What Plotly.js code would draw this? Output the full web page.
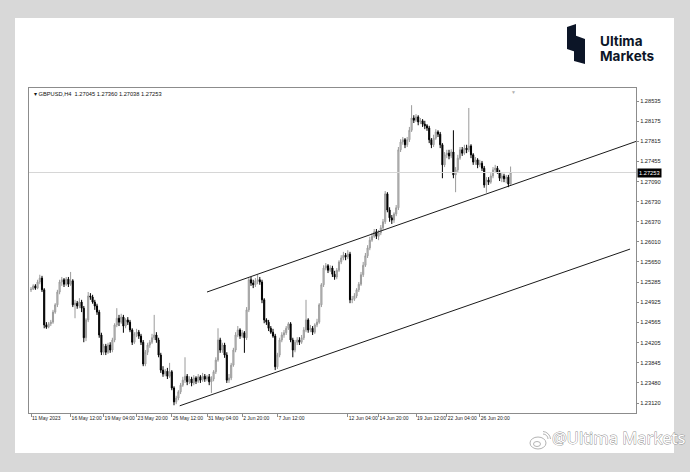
<!DOCTYPE html>
<html>
<head>
<meta charset="utf-8">
<script src="https://cdn.plot.ly/plotly-3.0.1.min.js"></script>
<style>
html,body{margin:0;padding:0;background:#d8d8d8;width:690px;height:472px;overflow:hidden;}
#card{position:absolute;left:15px;top:18px;width:659px;height:435px;background:#ffffff;}
#chart{position:absolute;left:0;top:0;width:690px;height:472px;}
#logo{position:absolute;left:566px;top:24px;width:22px;height:40px;}
.logoLine{position:absolute;left:600px;font-family:Inter,Roboto,"Noto Sans",sans-serif;font-weight:700;font-size:13.5px;line-height:15px;color:#0c1527;white-space:nowrap;}
#wm{position:absolute;left:552px;top:428px;font-family:"Noto Sans",Roboto,sans-serif;font-weight:400;font-size:16.5px;line-height:20px;color:#ffffff;-webkit-text-stroke:0.9px #8f8f8f;paint-order:stroke fill;white-space:nowrap;}
#wmIcon{position:absolute;left:529px;top:431px;}
</style>
</head>
<body>
<div id="card"></div>
<svg id="logo" width="22" height="40" viewBox="0 0 22 40">
  <polygon points="1,3 10,0 10,28 1,25" fill="#0c1527"/>
  <polygon points="8,11 19,15 19,40 8,37" fill="#0c1527"/>
</svg>
<div class="logoLine" style="top:34px">Ultima</div>
<div class="logoLine" style="top:49px">Markets</div>
<svg id="wmIcon" width="22" height="20" viewBox="0 0 22 20">
  <ellipse cx="9" cy="12" rx="8" ry="6" fill="none" stroke="#aaa" stroke-width="0.9"/>
  <ellipse cx="8" cy="13" rx="3.5" ry="2.5" fill="none" stroke="#aaa" stroke-width="0.9"/>
  <path d="M14,3 A5,5 0 0 1 19,8" fill="none" stroke="#aaa" stroke-width="0.9"/>
  <path d="M14,0.5 A8,8 0 0 1 21.5,8" fill="none" stroke="#aaa" stroke-width="0.9"/>
</svg>
<div id="wm">@Ultima Markets</div>
<div id="chart"></div>
<script>
// ---- data (GBPUSD, H4) ----
const symbolTitle = "GBPUSD,H4";
const lastBar = {open: 1.27045, high: 1.27360, low: 1.27038, close: 1.27253};

const openP = [
1.2515,1.2516,1.2522,1.2518,1.2529,1.2536,1.2515,1.2452,1.2448,1.2454,
1.2457,1.2475,1.2488,1.2511,1.2529,1.2533,1.2525,1.2534,1.2525,1.2531,
1.2488,1.2491,1.2486,1.2493,1.2482,1.2429,1.2461,1.2504,1.2502,1.2493,
1.2486,1.2475,1.2434,1.2403,1.2414,1.2403,1.2416,1.2407,1.2425,1.2452,
1.2464,1.2457,1.2466,1.2450,1.2461,1.2457,1.2443,1.2421,1.2436,1.2439,
1.2432,1.2421,1.2382,1.2403,1.2416,1.2421,1.2429,1.2434,1.2425,1.2398,
1.2371,1.2364,1.2369,1.2360,1.2368,1.2339,1.2314,1.2321,1.2332,1.2344,
1.2353,1.2360,1.2350,1.2355,1.2348,1.2357,1.2351,1.2359,1.2353,1.2360,
1.2355,1.2359,1.2350,1.2355,1.2368,1.2389,1.2425,1.2407,1.2416,1.2398,
1.2353,1.2357,1.2380,1.2407,1.2434,1.2443,1.2432,1.2438,1.2429,1.2479,
1.2533,1.2527,1.2524,1.2531,1.2533,1.2529,1.2497,1.2461,1.2457,1.2446,
1.2439,1.2432,1.2377,1.2398,1.2425,1.2434,1.2438,1.2446,1.2454,1.2425,
1.2407,1.2421,1.2425,1.2421,1.2429,1.2443,1.2461,1.2443,1.2446,1.2439,
1.2452,1.2457,1.2488,1.2524,1.2554,1.2558,1.2550,1.2554,1.2543,1.2538,
1.2550,1.2565,1.2572,1.2577,1.2574,1.2579,1.2497,1.2498,1.2504,1.2515,
1.2525,1.2542,1.2559,1.2576,1.2590,1.2604,1.2611,1.2619,1.2611,1.2617,
1.2626,1.2637,1.2687,1.2658,1.2644,1.2640,1.2651,1.2662,1.2766,1.2780,
1.2784,1.2775,1.2784,1.2801,1.2823,1.2819,1.2825,1.2816,1.2818,1.2812,
1.2809,1.2805,1.2784,1.2775,1.2787,1.2798,1.2794,1.2775,1.2739,1.2757,
1.2760,1.2755,1.2762,1.2721,1.2730,1.2751,1.2766,1.2760,1.2769,1.2766,
1.2773,1.2757,1.2744,1.2748,1.2739,1.2742,1.2733,1.2703,1.2712,1.2708,
1.2719,1.2730,1.2733,1.2726,1.2715,1.2719,1.2714,1.2717,1.27045];

const highP = [
1.2520,1.2525,1.2525,1.2533,1.2542,1.2540,1.2518,1.2457,1.2457,1.2461,
1.2479,1.2491,1.2515,1.2533,1.2538,1.2536,1.2538,1.2538,1.2547,1.2534,
1.2497,1.2495,1.2500,1.2497,1.2486,1.2464,1.2511,1.2509,1.2506,1.2497,
1.2490,1.2479,1.2438,1.2418,1.2418,1.2420,1.2421,1.2429,1.2455,1.2482,
1.2470,1.2472,1.2470,1.2464,1.2466,1.2461,1.2446,1.2439,1.2445,1.2443,
1.2436,1.2425,1.2407,1.2420,1.2425,1.2436,1.2470,1.2439,1.2429,1.2402,
1.2378,1.2373,1.2375,1.2384,1.2371,1.2342,1.2325,1.2335,1.2348,1.2359,
1.2394,1.2364,1.2360,1.2359,1.2362,1.2360,1.2364,1.2362,1.2366,1.2364,
1.2362,1.2364,1.2360,1.2371,1.2394,1.2446,1.2429,1.2420,1.2420,1.2403,
1.2364,1.2384,1.2411,1.2439,1.2450,1.2446,1.2443,1.2441,1.2484,1.2536,
1.2538,1.2533,1.2536,1.2542,1.2538,1.2533,1.2500,1.2464,1.2461,1.2450,
1.2445,1.2436,1.2402,1.2429,1.2439,1.2443,1.2450,1.2457,1.2457,1.2429,
1.2425,1.2430,1.2430,1.2434,1.2448,1.2497,1.2464,1.2452,1.2450,1.2455,
1.2463,1.2491,1.2527,1.2559,1.2563,1.2561,1.2559,1.2558,1.2549,1.2554,
1.2568,1.2577,1.2583,1.2581,1.2586,1.2583,1.2504,1.2509,1.2518,1.2529,
1.2547,1.2565,1.2581,1.2595,1.2610,1.2617,1.2624,1.2624,1.2622,1.2631,
1.2642,1.2692,1.2690,1.2663,1.2649,1.2654,1.2667,1.2771,1.2785,1.2789,
1.2787,1.2789,1.2807,1.2846,1.2828,1.2830,1.2828,1.2823,1.2821,1.2818,
1.2812,1.2809,1.2787,1.2793,1.2803,1.2801,1.2798,1.2778,1.2762,1.2766,
1.2766,1.2767,1.2801,1.2735,1.2757,1.2771,1.2771,1.2775,1.2775,1.2841,
1.2776,1.2760,1.2753,1.2751,1.2748,1.2746,1.2737,1.2717,1.2717,1.2724,
1.2735,1.2739,1.2737,1.2730,1.2724,1.2723,1.2721,1.2721,1.27360];

const lowP = [
1.2511,1.2515,1.2515,1.2516,1.2525,1.2511,1.2446,1.2445,1.2446,1.2450,
1.2454,1.2472,1.2484,1.2507,1.2522,1.2520,1.2522,1.2520,1.2522,1.2484,
1.2464,1.2481,1.2482,1.2475,1.2421,1.2423,1.2457,1.2497,1.2490,1.2479,
1.2470,1.2429,1.2398,1.2398,1.2398,1.2400,1.2402,1.2403,1.2421,1.2448,
1.2450,1.2454,1.2438,1.2446,1.2452,1.2439,1.2416,1.2418,1.2430,1.2427,
1.2416,1.2378,1.2378,1.2398,1.2411,1.2418,1.2425,1.2420,1.2394,1.2366,
1.2359,1.2360,1.2355,1.2357,1.2335,1.2308,1.2310,1.2317,1.2328,1.2341,
1.2348,1.2344,1.2346,1.2342,1.2344,1.2346,1.2348,1.2348,1.2350,1.2350,
1.2351,1.2344,1.2330,1.2351,1.2364,1.2386,1.2402,1.2402,1.2393,1.2348,
1.2348,1.2353,1.2377,1.2403,1.2430,1.2427,1.2429,1.2402,1.2425,1.2475,
1.2522,1.2518,1.2520,1.2525,1.2524,1.2491,1.2455,1.2452,1.2441,1.2436,
1.2429,1.2371,1.2373,1.2394,1.2421,1.2429,1.2434,1.2443,1.2421,1.2394,
1.2403,1.2416,1.2416,1.2418,1.2425,1.2439,1.2438,1.2439,1.2434,1.2436,
1.2448,1.2454,1.2484,1.2520,1.2550,1.2545,1.2547,1.2538,1.2533,1.2534,
1.2547,1.2561,1.2568,1.2568,1.2570,1.2491,1.2491,1.2495,1.2500,1.2511,
1.2522,1.2538,1.2556,1.2572,1.2586,1.2601,1.2608,1.2606,1.2604,1.2613,
1.2622,1.2633,1.2654,1.2637,1.2633,1.2635,1.2647,1.2658,1.2762,1.2775,
1.2769,1.2771,1.2780,1.2798,1.2814,1.2816,1.2810,1.2812,1.2807,1.2803,
1.2800,1.2778,1.2769,1.2771,1.2784,1.2789,1.2769,1.2715,1.2735,1.2751,
1.2749,1.2751,1.2715,1.2690,1.2726,1.2748,1.2755,1.2757,1.2760,1.2762,
1.2751,1.2739,1.2739,1.2733,1.2735,1.2728,1.2698,1.2689,1.2703,1.2705,
1.2715,1.2726,1.2723,1.2710,1.2708,1.2708,1.2706,1.2699,1.27038];

const closeP = [
1.2516,1.2522,1.2518,1.2529,1.2536,1.2515,1.2452,1.2448,1.2454,1.2457,
1.2475,1.2488,1.2511,1.2529,1.2533,1.2525,1.2534,1.2525,1.2531,1.2488,
1.2491,1.2486,1.2493,1.2482,1.2429,1.2461,1.2504,1.2502,1.2493,1.2486,
1.2475,1.2434,1.2403,1.2414,1.2403,1.2416,1.2407,1.2425,1.2452,1.2464,
1.2457,1.2466,1.2450,1.2461,1.2457,1.2443,1.2421,1.2436,1.2439,1.2432,
1.2421,1.2382,1.2403,1.2416,1.2421,1.2429,1.2434,1.2425,1.2398,1.2371,
1.2364,1.2369,1.2360,1.2368,1.2339,1.2314,1.2321,1.2332,1.2344,1.2353,
1.2360,1.2350,1.2355,1.2348,1.2357,1.2351,1.2359,1.2353,1.2360,1.2355,
1.2359,1.2350,1.2355,1.2368,1.2389,1.2425,1.2407,1.2416,1.2398,1.2353,
1.2357,1.2380,1.2407,1.2434,1.2443,1.2432,1.2438,1.2429,1.2479,1.2533,
1.2527,1.2524,1.2531,1.2533,1.2529,1.2497,1.2461,1.2457,1.2446,1.2439,
1.2432,1.2377,1.2398,1.2425,1.2434,1.2438,1.2446,1.2454,1.2425,1.2407,
1.2421,1.2425,1.2421,1.2429,1.2443,1.2461,1.2443,1.2446,1.2439,1.2452,
1.2457,1.2488,1.2524,1.2554,1.2558,1.2550,1.2554,1.2543,1.2538,1.2550,
1.2565,1.2572,1.2577,1.2574,1.2579,1.2497,1.2498,1.2504,1.2515,1.2525,
1.2542,1.2559,1.2576,1.2590,1.2604,1.2611,1.2619,1.2611,1.2617,1.2626,
1.2637,1.2687,1.2658,1.2644,1.2640,1.2651,1.2662,1.2766,1.2780,1.2784,
1.2775,1.2784,1.2801,1.2823,1.2819,1.2825,1.2816,1.2818,1.2812,1.2809,
1.2805,1.2784,1.2775,1.2787,1.2798,1.2794,1.2775,1.2739,1.2757,1.2760,
1.2755,1.2762,1.2721,1.2730,1.2751,1.2766,1.2760,1.2769,1.2766,1.2773,
1.2757,1.2744,1.2748,1.2739,1.2742,1.2733,1.2703,1.2712,1.2708,1.2719,
1.2730,1.2733,1.2726,1.2715,1.2719,1.2714,1.2717,1.27045,1.27253];

// time axis labels (bar index where each label sits)
const xTickBars   = [0, 18, 33, 48, 64, 80, 96, 112, 144, 158, 175, 189, 204];
const xTickLabels = ["11 May 2023","16 May 12:00","19 May 04:00","23 May 20:00","26 May 12:00","31 May 04:00","2 Jun 20:00","7 Jun 12:00","12 Jun 04:00","14 Jun 20:00","19 Jun 12:00","22 Jun 04:00","26 Jun 20:00"];

// price axis labels
const yTickVals = [1.28535,1.28175,1.27815,1.27455,1.27090,1.26730,1.26370,1.26010,1.25650,1.25285,1.24925,1.24565,1.24205,1.23845,1.23480,1.23120];

// drawn channel lines: [barStart, priceStart, barEnd, priceEnd]
const upperChannel = [80.0, 1.2511, 275.0, 1.2781];
const lowerChannel = [67.6, 1.2307, 272.3, 1.2588];

// ---- chart ----
const barIdx = closeP.map((_, i) => i);

const trace = {
  type: 'candlestick',
  x: barIdx, open: openP, high: highP, low: lowP, close: closeP,
  increasing: {line: {color: '#9a9a9a', width: 1}, fillcolor: '#d4d4d4'},
  decreasing: {line: {color: '#000000', width: 1}, fillcolor: '#000000'},
  whiskerwidth: 0,
  hoverinfo: 'skip'
};

const fmt = v => v.toFixed(5);
const axisFont = {family: 'Liberation Sans, Arial, sans-serif', size: 5.7, color: '#222222'};

const layout = {
  width: 690, height: 472,
  margin: {l: 29, r: 54, t: 88, b: 59, pad: 0},
  paper_bgcolor: 'rgba(0,0,0,0)',
  plot_bgcolor: '#ffffff',
  showlegend: false,
  dragmode: false,
  xaxis: {
    range: [-0.909, 275.0], showgrid: false, zeroline: false,
    showline: true, mirror: true, linecolor: '#8c8c8c', linewidth: 1,
    ticks: 'outside', ticklen: 3, tickcolor: '#8c8c8c',
    tickmode: 'array', tickvals: xTickBars, ticktext: xTickLabels,
    ticklabelposition: 'outside right', tickangle: 0, automargin: false,
    tickfont: {family: 'Liberation Sans, Arial, sans-serif', size: 5.0, color: '#222222'},
    rangeslider: {visible: false}, fixedrange: true
  },
  yaxis: {
    side: 'right', range: [1.22941, 1.28768], showgrid: false, zeroline: false,
    showline: true, mirror: true, linecolor: '#8c8c8c', linewidth: 1,
    ticks: 'outside', ticklen: 2, tickcolor: '#8c8c8c', automargin: false,
    tickmode: 'array', tickvals: yTickVals, ticktext: yTickVals.map(fmt),
    tickfont: axisFont, fixedrange: true
  },
  shapes: [
    {type: 'line', xref: 'paper', yref: 'y', x0: 0, x1: 1, y0: lastBar.close, y1: lastBar.close,
     line: {color: '#d6d6d6', width: 1}},
    {type: 'line', xref: 'x', yref: 'y', x0: upperChannel[0], y0: upperChannel[1], x1: upperChannel[2], y1: upperChannel[3],
     line: {color: '#1a1a1a', width: 1}},
    {type: 'line', xref: 'x', yref: 'y', x0: lowerChannel[0], y0: lowerChannel[1], x1: lowerChannel[2], y1: lowerChannel[3],
     line: {color: '#1a1a1a', width: 1}}
  ],
  annotations: [
    {xref: 'paper', yref: 'paper', x: 0, y: 1, xanchor: 'left', yanchor: 'top', xshift: 3, yshift: -1,
     showarrow: false, align: 'left',
     text: '▾ ' + symbolTitle + '  ' + [lastBar.open, lastBar.high, lastBar.low, lastBar.close].map(fmt).join(' '),
     font: {family: 'Liberation Sans, Arial, sans-serif', size: 5.7, color: '#111111'}},
    {xref: 'paper', yref: 'y', x: 1, y: lastBar.close, xanchor: 'left', yanchor: 'middle', xshift: 1,
     showarrow: false, text: fmt(lastBar.close), bgcolor: '#000000', borderpad: 1,
     font: {family: 'Liberation Sans, Arial, sans-serif', size: 5.7, color: '#ffffff'}},
    {xref: 'paper', yref: 'paper', x: 0.7987, y: 1, xanchor: 'center', yanchor: 'top', yshift: 1,
     showarrow: false, text: '▼', font: {size: 5, color: '#b0b0b0'}}
  ]
};

Plotly.newPlot('chart', [trace], layout, {staticPlot: true, displayModeBar: false});
</script>
</body>
</html>
